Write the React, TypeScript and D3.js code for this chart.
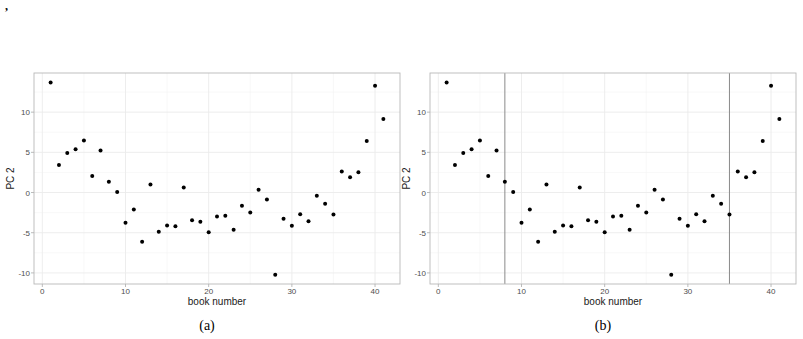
import React from "react";
import * as d3 from "d3";

const bookNumbers = d3.range(1, 42);
const pc2 = [13.7, 3.44, 4.93, 5.38, 6.46, 2.07, 5.22, 1.33, 0.08, -3.77, -2.11, -6.13, 0.99, -4.89, -4.1, -4.18, 0.62, -3.44, -3.64, -4.93, -2.98, -2.9, -4.64, -1.66, -2.48, 0.33, -0.87, -10.23, -3.27, -4.14, -2.69, -3.56, -0.41, -1.41, -2.73, 2.61, 1.9, 2.53, 6.42, 13.29, 9.15];
const xTicks = [0, 10, 20, 30, 40];
const xMinor = [5, 15, 25, 35];
const yTicks = [-10, -5, 0, 5, 10];
const yMinor = [-7.5, -2.5, 2.5, 7.5, 12.5];
const breakpoints = [8, 35];
const captions = ["(a)", "(b)"];

const W = 803, H = 339;
const panels = [
  { x0: 34, x1: 400, lines: false, cap: captions[0] },
  { x0: 430, x1: 796, lines: true, cap: captions[1] },
];
const top = 73, bottom = 284;

function Panel({ p }: { p: typeof panels[0] }) {
  const x = d3.scaleLinear().domain([-1, 43]).range([p.x0, p.x1]);
  const y = d3.scaleLinear().domain([-11.38, 14.87]).range([bottom, top]);
  const sans = "Liberation Sans, Arial, sans-serif";
  const cx = (p.x0 + p.x1) / 2;
  return (
    <g>
      {xMinor.map((t) => (
        <line key={"xm" + t} x1={x(t)} x2={x(t)} y1={top} y2={bottom} stroke="#f4f4f4" strokeWidth={0.6} />
      ))}
      {yMinor.map((t) => (
        <line key={"ym" + t} x1={p.x0} x2={p.x1} y1={y(t)} y2={y(t)} stroke="#f4f4f4" strokeWidth={0.6} />
      ))}
      {xTicks.map((t) => (
        <line key={"xg" + t} x1={x(t)} x2={x(t)} y1={top} y2={bottom} stroke="#ebebeb" strokeWidth={0.9} />
      ))}
      {yTicks.map((t) => (
        <line key={"yg" + t} x1={p.x0} x2={p.x1} y1={y(t)} y2={y(t)} stroke="#ebebeb" strokeWidth={0.9} />
      ))}
      {p.lines &&
        breakpoints.map((b) => (
          <line key={"bp" + b} x1={x(b)} x2={x(b)} y1={top} y2={bottom} stroke="#8a8a8a" strokeWidth={1} />
        ))}
      {bookNumbers.map((b, i) => (
        <circle key={b} cx={x(b)} cy={y(pc2[i])} r={2} fill="#000" />
      ))}
      <rect x={p.x0} y={top} width={p.x1 - p.x0} height={bottom - top} fill="none" stroke="#b8b8b8" strokeWidth={0.9} />
      {xTicks.map((t) => (
        <g key={"xt" + t}>
          <line x1={x(t)} x2={x(t)} y1={bottom} y2={bottom + 3} stroke="#b3b3b3" strokeWidth={0.9} />
          <text x={x(t)} y={bottom + 10} textAnchor="middle" fontFamily={sans} fontSize={8} fill="#4d4d4d">{t}</text>
        </g>
      ))}
      {yTicks.map((t) => (
        <g key={"yt" + t}>
          <line x1={p.x0 - 3} x2={p.x0} y1={y(t)} y2={y(t)} stroke="#b3b3b3" strokeWidth={0.9} />
          <text x={p.x0 - 4} y={y(t) + 3} textAnchor="end" fontFamily={sans} fontSize={8} fill="#4d4d4d">{t}</text>
        </g>
      ))}
      <text x={cx} y={bottom + 21} textAnchor="middle" fontFamily={sans} fontSize={10} fill="#1a1a1a">book number</text>
      <text transform={`translate(${p.x0 - 20},${(top + bottom) / 2}) rotate(-90)`} textAnchor="middle" fontFamily={sans} fontSize={10} fill="#1a1a1a">PC 2</text>
      <text x={cx - 10} y={330} textAnchor="middle" fontFamily="Liberation Serif, Times New Roman, serif" fontSize={14} fill="#000">{p.cap}</text>
    </g>
  );
}

export default function App() {
  return (
    <svg width={W} height={H} style={{ position: "absolute", left: 0, top: 0, background: "#fff" }}>
      <rect width={W} height={H} fill="#fff" />
      <text x={5} y={10} fontFamily="Liberation Serif, serif" fontSize={12} fontWeight="bold" fill="#000">,</text>
      {panels.map((p, i) => (
        <Panel key={i} p={p} />
      ))}
    </svg>
  );
}
